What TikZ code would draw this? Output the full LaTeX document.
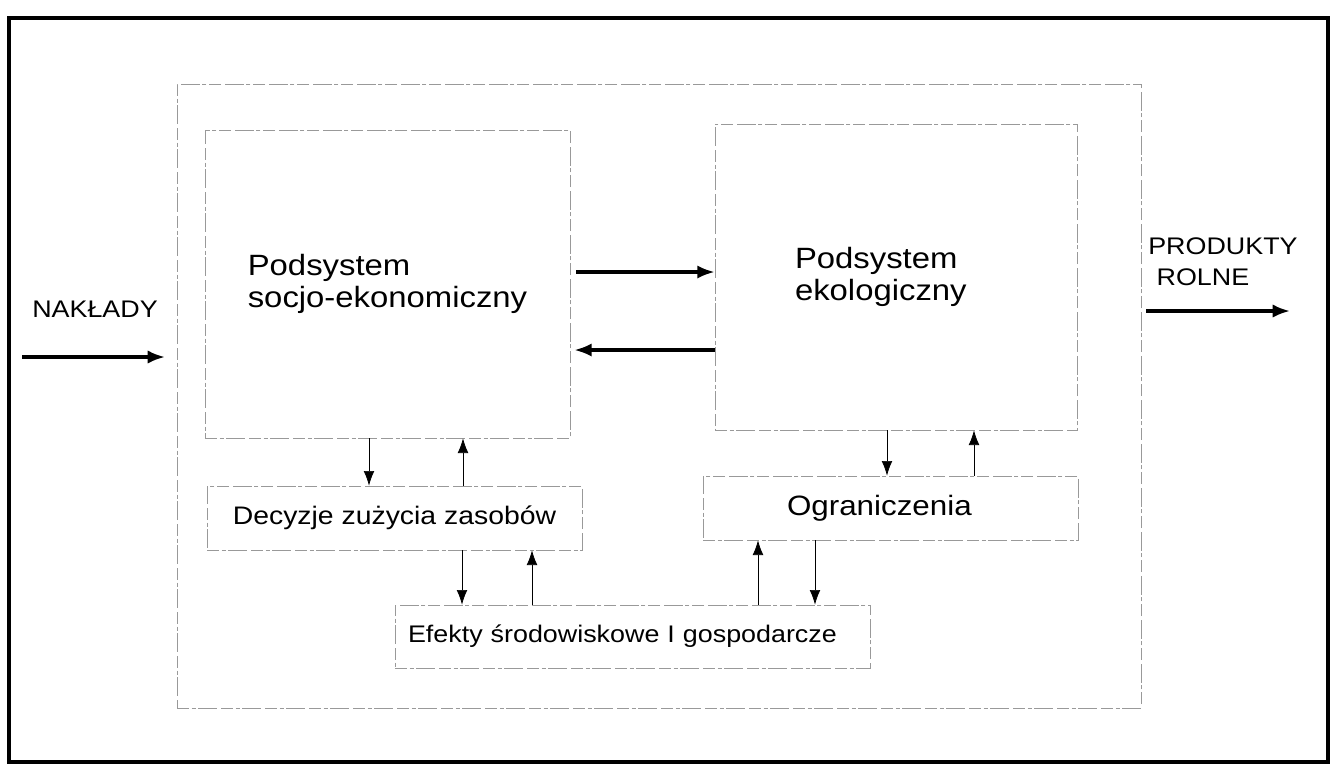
\documentclass[tikz,border=0pt]{standalone}
\usepackage{fontspec}
\setmainfont{Liberation Sans}[FakeStretch=1.12]
\usetikzlibrary{arrows.meta}

\begin{document}
\begin{tikzpicture}[x=0.75pt,y=0.75pt,yscale=-1,xscale=1,
  box/.style={draw=black!40, line width=0.5pt, dash pattern=on 9pt off 2pt on 3pt off 2pt on 14pt off 3pt, inner sep=0pt},
  mainarrow/.style={line width=2.4pt, -{Latex[length=13pt,width=10pt]}},
  smallarrow/.style={line width=0.5pt, -{Latex[length=11pt,width=8pt]}}]
\useasboundingbox (0,0) rectangle (1336,769);
\draw [line width=3.5pt] (9,18) rectangle (1328,762) ;

% system and its parts
\node [box, minimum width=723pt, minimum height=468pt] (system) at (659,396) {};
\node [box, minimum width=273.75pt, minimum height=231pt, align=left, font=\fontsize{22}{24}\selectfont] (socio) at (387.5,284) {Podsystem\\socjo-ekonomiczny};
\node [box, minimum width=271.5pt, minimum height=229.5pt, text width=151.5pt, align=left, font=\fontsize{22}{24}\selectfont] (eco) at (896,277) {Podsystem\\ekologiczny};
\node [box, minimum width=281.25pt, minimum height=48pt, font=\fontsize{19}{22}\selectfont] (decyz) at (394.5,518) {Decyzje zużycia zasobów};
\node [box, minimum width=281.25pt, minimum height=48pt, text width=155.25pt, align=left, font=\fontsize{21}{24}\selectfont] (ogran) at (890.5,508) {Ograniczenia};
\node [box, minimum width=356.25pt, minimum height=47.25pt, text width=336.75pt, align=left, font=\fontsize{18}{21}\selectfont] (efekty) at (632.5,636.5) {Efekty środowiskowe I gospodarcze};

% wejscie i wyjscie
\draw (32,317) node (naklady) [anchor=base west] [inner sep=0pt, font=\fontsize{18}{21}\selectfont] {NAKŁADY};
\draw (1148,262) node (produkty) [anchor=west] [inner sep=0pt, align=left, font=\fontsize{18}{23}\selectfont] {PRODUKTY\\\hspace*{0.35em}ROLNE};
\coordinate (nakA) at (22,357);
\coordinate (nakB) at (165,357);
\coordinate (prodA) at (1146,311);
\coordinate (prodB) at (1290,311);
\draw [mainarrow] (nakA) -- (nakB) ;
\draw [mainarrow] (prodA) -- (prodB) ;

\draw [mainarrow] ([xshift=4.5pt,yshift=-9pt]socio.east) -- ([yshift=-3.75pt]eco.west) ;
\draw [mainarrow] ([yshift=54.75pt]eco.west) -- ([xshift=3pt,yshift=49.5pt]socio.east) ;

% sprzezenia
\draw [smallarrow] (socio.south -| 369,0) -- (decyz.north -| 369,0) ;
\draw [smallarrow] (decyz.north -| 463,0) -- (socio.south -| 463,0) ;
\draw [smallarrow] (decyz.south -| 462,0) -- (efekty.north -| 462,0) ;
\draw [smallarrow] (efekty.north -| 532,0) -- (decyz.south -| 532,0) ;
\draw [smallarrow] (eco.south -| 887,0) -- (ogran.north -| 887,0) ;
\draw [smallarrow] (ogran.north -| 974,0) -- (eco.south -| 974,0) ;
\draw [smallarrow] (efekty.north -| 758,0) -- (ogran.south -| 758,0) ;
\draw [smallarrow] (ogran.south -| 815,0) -- (efekty.north -| 815,0) ;
\end{tikzpicture}
\end{document}
